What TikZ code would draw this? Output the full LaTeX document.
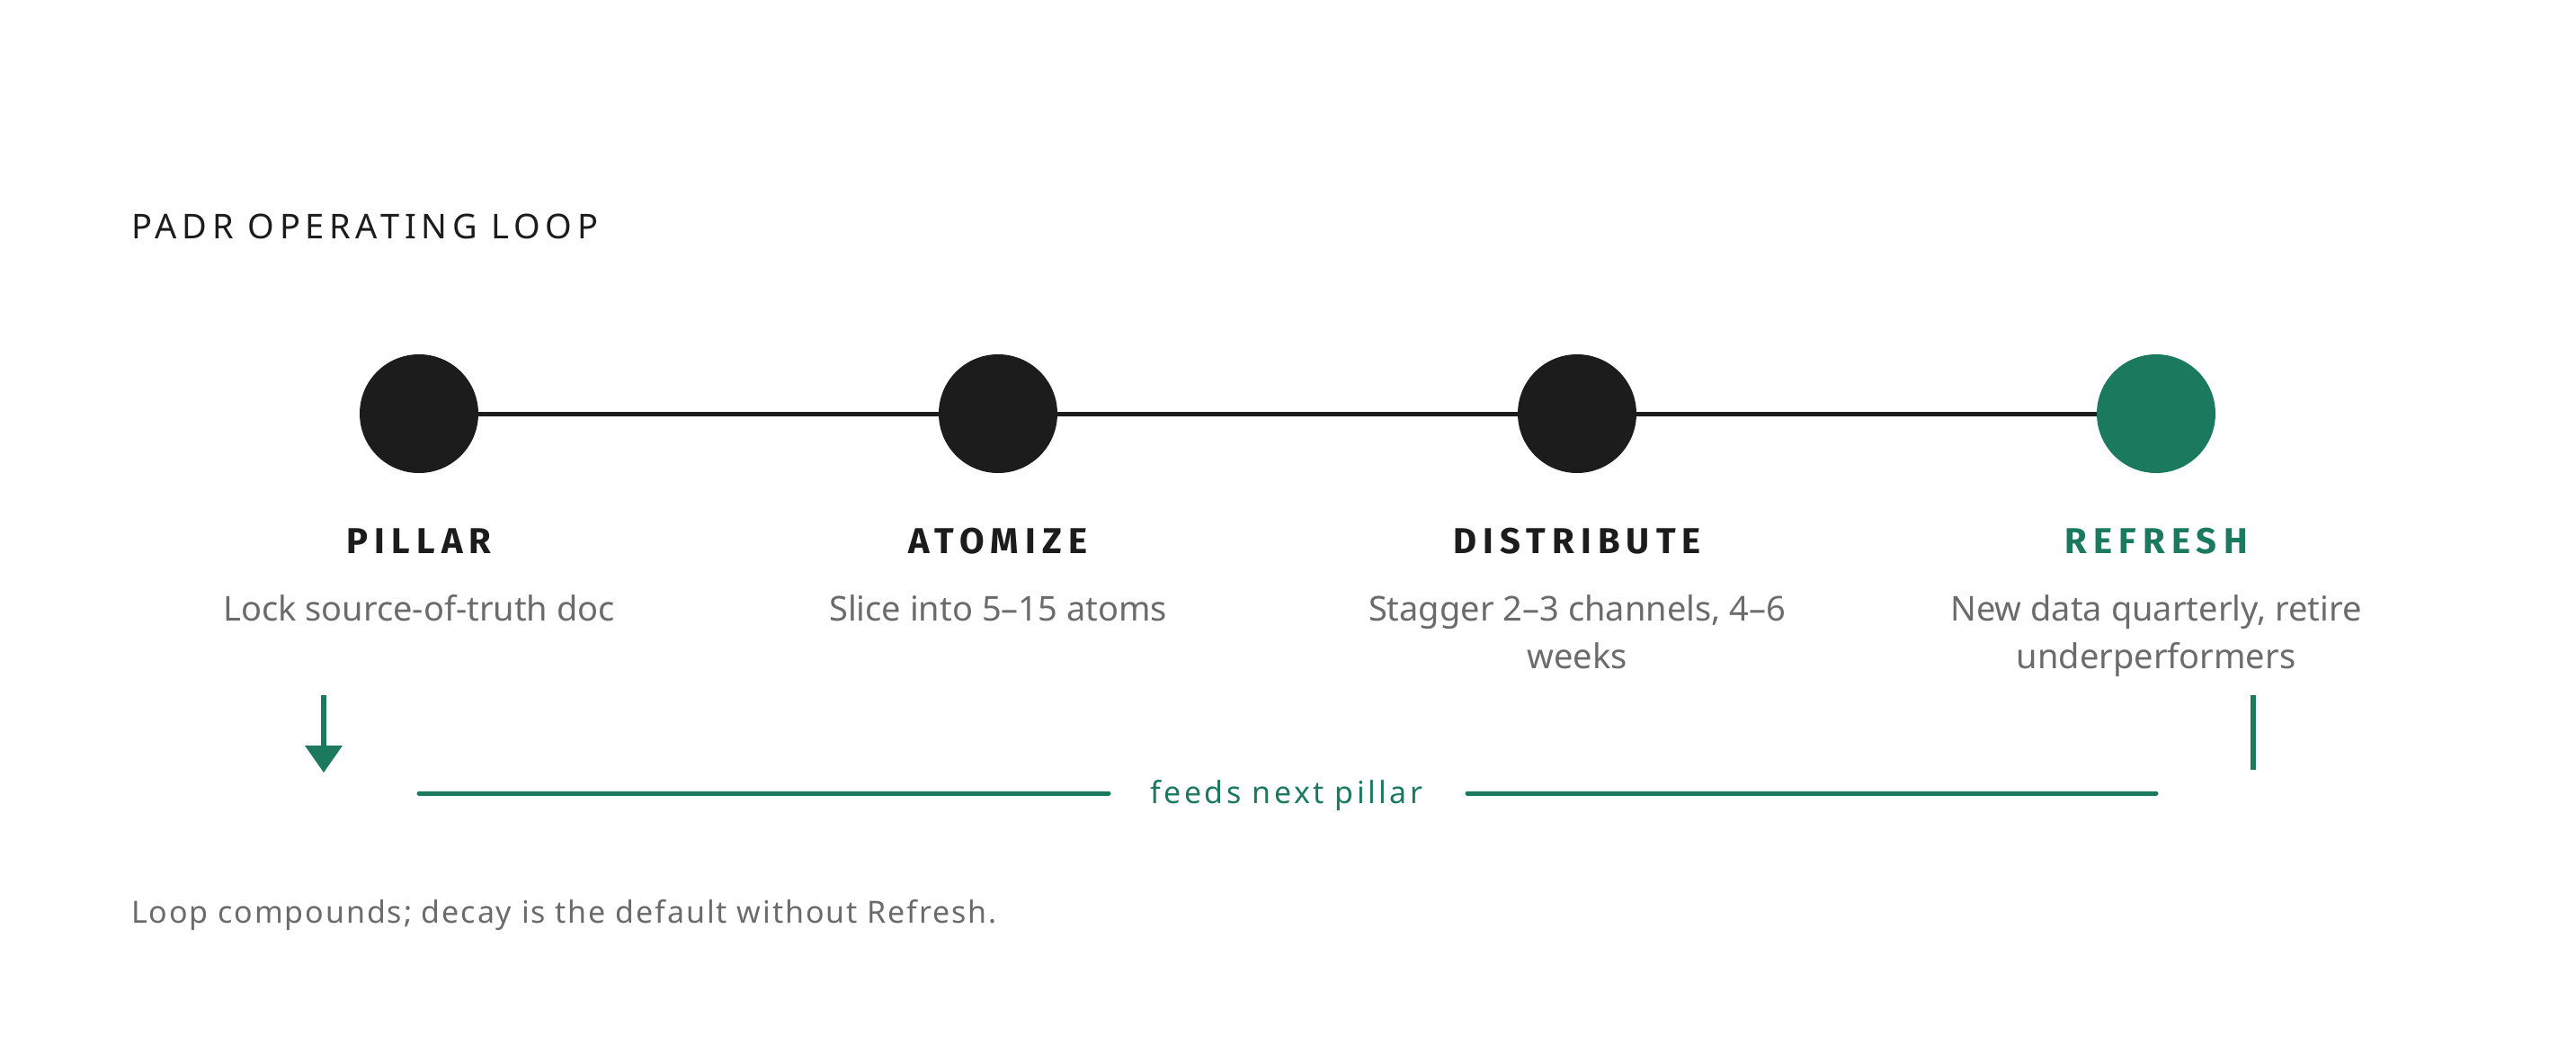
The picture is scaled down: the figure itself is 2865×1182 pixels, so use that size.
\documentclass[tikz,border=0pt]{standalone}
\usepackage{fontspec}
\setmainfont{Noto Sans}
\newfontfamily\headfont{Fira Sans}
\usetikzlibrary{positioning}
\definecolor{ink}{HTML}{1C1C1C}
\definecolor{accent}{HTML}{1B7A5E}
\definecolor{muted}{HTML}{6B6B6B}
\tikzset{
  dot/.style={circle, fill=ink, minimum size=132pt, inner sep=0pt},
  greendot/.style={dot, fill=accent},
  stagelabel/.style={anchor=base, inner sep=0pt, text=ink, font=\headfont\fontsize{40}{46}\selectfont\bfseries\addfontfeatures{LetterSpace=18}},
  desc/.style={anchor=base, inner sep=0pt, text=muted, align=center, font=\fontsize{38}{53}\selectfont},
  link/.style={draw=ink, line width=5pt},
  feedline/.style={draw=accent, line width=5pt, line cap=round},
}
\begin{document}
\begin{tikzpicture}[x=1pt, y=-1pt]
\useasboundingbox (0,0) rectangle (2865,1182);
% title
\node[anchor=base west, inner sep=0pt, text=ink, font=\fontsize{38}{46}\selectfont\addfontfeatures{LetterSpace=15}] (title) at (146,266) {PADR OPERATING LOOP};
% stages
\node[dot] (p1) at (466,460) {};
\node[dot] (p2) at (1110,460) {};
\node[dot] (p3) at (1754,460) {};
\node[greendot] (p4) at (2398,460) {};
\draw[link] (p1) -- (p2);
\draw[link] (p2) -- (p3);
\draw[link] (p3) -- (p4);
\node[stagelabel] (l1) at (466,615) {PILLAR};
\node[stagelabel] (l2) at (1110,615) {ATOMIZE};
\node[stagelabel] (l3) at (1754,615) {DISTRIBUTE};
\node[stagelabel, text=accent] (l4) at (2398,615) {REFRESH};
\node[desc] (d1) at (466,690) {Lock source-of-truth doc};
\node[desc] (d2) at (1110,690) {Slice into 5–15 atoms};
\node[desc] (d3) at (1754,743) {Stagger 2–3 channels, 4–6\\weeks};
\node[desc] (d4) at (2398,743) {New data quarterly, retire\\underperformers};
% feedback
\coordinate (arrtop) at (360,773);
\coordinate (arrbase) at (360,829);
\draw[draw=accent, line width=6pt] (arrtop) -- (arrbase);
\fill[accent] (339,829) -- (381,829) -- (360,859) -- cycle;
\coordinate (rtop) at (2506,773);
\coordinate (rbot) at (2506,856);
\draw[draw=accent, line width=6pt] (rtop) -- (rbot);
\node[anchor=base, inner sep=0pt, text=accent, font=\fontsize{34}{40}\selectfont\addfontfeatures{LetterSpace=10}] (feeds) at (1431,893) {feeds next pillar};
\coordinate (fl1) at (466,882);
\coordinate (fl2) at (1233,882);
\coordinate (fr1) at (1632,882);
\coordinate (fr2) at (2398,882);
\draw[feedline] (fl1) -- (fl2);
\draw[feedline] (fr1) -- (fr2);
% footnote
\node[anchor=base west, inner sep=0pt, text=muted, font=\fontsize{34}{40}\selectfont\addfontfeatures{LetterSpace=5.6}] (foot) at (146,1026) {Loop compounds; decay is the default without Refresh.};
\end{tikzpicture}
\end{document}
